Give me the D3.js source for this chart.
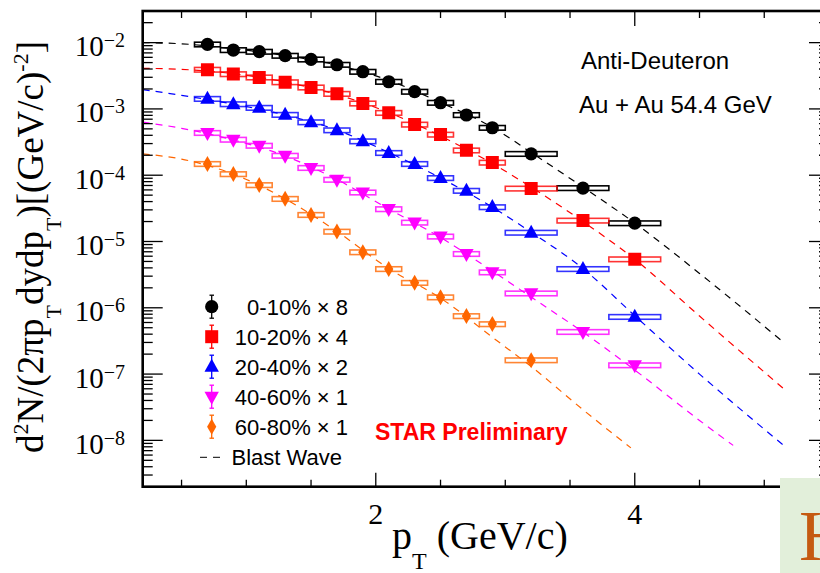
<!DOCTYPE html>
<html>
<head>
<meta charset="utf-8">
<script src="https://cdn.jsdelivr.net/npm/d3@7"></script>
<style>
  body { margin: 0; background: #fff; }
  svg { display: block; }
</style>
</head>
<body>
<div id="chart-wrapper"></div>
<script>
let width = 820
let height = 573

// pT bin centres and half widths (GeV/c)
let ptBins = [0.7, 0.9, 1.1, 1.3, 1.5, 1.7, 1.9, 2.1, 2.3, 2.5, 2.7, 2.9, 3.2, 3.6, 4.0]
let ptHalf = [0.1, 0.1, 0.1, 0.1, 0.1, 0.1, 0.1, 0.1, 0.1, 0.1, 0.1, 0.1, 0.2, 0.2, 0.2]
let sysFrac = 0.08

// spectra (already scaled)
let cent0_10 = [9.4e-3, 7.73e-3, 7.3e-3, 6.35e-3, 5.58e-3, 4.64e-3, 3.64e-3, 2.57e-3, 1.82e-3, 1.24e-3, 8.1e-4, 5.2e-4, 2.1e-4, 6.4e-5, 1.89e-5]
let cent10_20 = [3.91e-3, 3.35e-3, 2.99e-3, 2.53e-3, 2.11e-3, 1.69e-3, 1.21e-3, 8.73e-4, 5.81e-4, 4.1e-4, 2.37e-4, 1.55e-4, 6.3e-5, 2.07e-5, 5.4e-6]
let cent20_40 = [1.42e-3, 1.18e-3, 1.04e-3, 8.15e-4, 6.3e-4, 4.77e-4, 3.25e-4, 2.17e-4, 1.48e-4, 9.07e-5, 5.83e-5, 3.3e-5, 1.36e-5, 3.85e-6, 7.3e-7]
let cent40_60 = [4.35e-4, 3.44e-4, 2.79e-4, 1.97e-4, 1.29e-4, 8.55e-5, 5.5e-5, 3.08e-5, 1.93e-5, 1.19e-5, 6.5e-6, 3.43e-6, 1.65e-6, 4.33e-7, 1.36e-7]
let cent60_80 = [1.48e-4, 1.04e-4, 7.1e-5, 4.4e-5, 2.52e-5, 1.41e-5, 6.9e-6, 3.85e-6, 2.38e-6, 1.44e-6, 7.5e-7, 5.67e-7, 1.62e-7]

// blast wave curves
let bwPt = [0.2, 0.5, 0.9, 1.3, 1.7, 2.1, 2.5, 2.9, 3.2, 3.6, 4.0, 4.5, 5.15]
let bw0_10 = [1.0e-2, 9.6e-3, 8.1e-3, 6.4e-3, 4.6e-3, 2.7e-3, 1.25e-3, 5.3e-4, 2.2e-4, 6.6e-5, 1.9e-5, 3.3e-6, 3.0e-7]
let bw10_20 = [4.1e-3, 3.95e-3, 3.4e-3, 2.55e-3, 1.65e-3, 8.8e-4, 3.9e-4, 1.5e-4, 6.6e-5, 2.0e-5, 5.4e-6, 7.5e-7, 6.0e-8]
let bw20_40 = [1.96e-3, 1.6e-3, 1.18e-3, 8.1e-4, 4.8e-4, 2.2e-4, 9.1e-5, 3.3e-5, 1.38e-5, 3.9e-6, 7.6e-7, 1.0e-7, 8.4e-9]
let bwPt40_60 = [0.2, 0.5, 0.9, 1.3, 1.7, 2.1, 2.5, 2.9, 3.2, 3.6, 4.0, 4.5, 4.76]
let bw40_60 = [6.3e-4, 5.1e-4, 3.4e-4, 1.95e-4, 8.6e-5, 3.1e-5, 1.15e-5, 3.6e-6, 1.45e-6, 4.3e-7, 1.15e-7, 2.0e-8, 8.4e-9]
let bwPt60_80 = [0.2, 0.5, 0.9, 1.3, 1.7, 2.1, 2.5, 2.9, 3.2, 3.6, 3.97]
let bw60_80 = [2.1e-4, 1.75e-4, 1.04e-4, 4.4e-5, 1.42e-5, 3.9e-6, 1.4e-6, 3.6e-7, 1.3e-7, 2.9e-8, 7.7e-9]

let labels = ["0-10% \u00d7 8", "10-20% \u00d7 4", "20-40% \u00d7 2", "40-60% \u00d7 1", "60-80% \u00d7 1"]
let colors = ["#000000", "#ff0000", "#0000ff", "#ff00ff", "#ff6600"]
let shapes = ["circle", "square", "triUp", "triDown", "diamond"]

let series = [
  {vals: cent0_10, bwX: bwPt, bwY: bw0_10},
  {vals: cent10_20, bwX: bwPt, bwY: bw10_20},
  {vals: cent20_40, bwX: bwPt, bwY: bw20_40},
  {vals: cent40_60, bwX: bwPt40_60, bwY: bw40_60},
  {vals: cent60_80, bwX: bwPt60_80, bwY: bw60_80}
]

let frame = {left: 142.7, top: 11, right: 829, bottom: 486.7}
let serif = "'Liberation Serif', 'Times New Roman', serif"
let sans = "'Liberation Sans', Arial, Helvetica, sans-serif"

let svg = d3.select("#chart-wrapper")
  .append("svg")
  .attr("width", width)
  .attr("height", height)

svg.append("rect").attr("width", width).attr("height", height).attr("fill", "#fff")

let x = d3.scaleLinear().domain([0.2, 5.5]).range([frame.left, frame.right])
let y = d3.scaleLog().domain([2e-9, 3e-2]).range([frame.bottom, frame.top])

let clip = svg.append("clipPath").attr("id", "plotclip")
  .append("rect")
  .attr("x", frame.left).attr("y", frame.top)
  .attr("width", frame.right - frame.left).attr("height", frame.bottom - frame.top)

let plot = svg.append("g").attr("clip-path", "url(#plotclip)")

function markerPath(shape) {
  if (shape == "circle") return d3.symbol(d3.symbolCircle, Math.PI * 6.6 * 6.6)()
  if (shape == "square") return "M-6.5,-6.5H6.5V6.5H-6.5Z"
  if (shape == "triUp") return "M0,-8L7.2,5L-7.2,5Z"
  if (shape == "triDown") return "M0,8L7.2,-5L-7.2,-5Z"
  return "M0,-8L4.6,0L0,8L-4.6,0Z"
}

// systematic boxes
series.forEach((s, k) => {
  plot.append("g")
    .selectAll("rect")
    .data(s.vals)
    .enter()
    .append("rect")
    .attr("x", (d, i) => x(ptBins[i] - ptHalf[i]))
    .attr("width", (d, i) => x(ptBins[i] + ptHalf[i]) - x(ptBins[i] - ptHalf[i]))
    .attr("y", d => y(d * (1 + sysFrac)))
    .attr("height", d => y(d * (1 - sysFrac)) - y(d * (1 + sysFrac)))
    .attr("fill", "none")
    .attr("stroke", colors[k])
    .attr("stroke-opacity", k == 0 ? 1 : 0.8)
    .attr("stroke-width", 1.6)
})

// blast wave fits
let line = d3.line()
  .x(d => x(d[0]))
  .y(d => y(d[1]))
  .curve(d3.curveMonotoneX)

series.forEach((s, k) => {
  plot.append("path")
    .attr("d", line(s.bwX.map((p, i) => [p, s.bwY[i]])))
    .attr("fill", "none")
    .attr("stroke", colors[k])
    .attr("stroke-width", 1.2)
    .attr("stroke-dasharray", "7,6")
})

// markers
series.forEach((s, k) => {
  plot.append("g")
    .selectAll("path")
    .data(s.vals)
    .enter()
    .append("path")
    .attr("d", markerPath(shapes[k]))
    .attr("transform", (d, i) => `translate(${x(ptBins[i])},${y(d)})`)
    .attr("fill", colors[k])
})

// frame + ticks
let axes = svg.append("g").attr("stroke", "#000")
let xMinor = d3.range(0.5, 5.01, 0.5)
xMinor.forEach(t => {
  let major = (t == 2 || t == 4)
  axes.append("line").attr("x1", x(t)).attr("x2", x(t))
    .attr("y1", frame.bottom).attr("y2", frame.bottom - (major ? 14 : 7)).attr("stroke-width", 1.3)
  axes.append("line").attr("x1", x(t)).attr("x2", x(t))
    .attr("y1", frame.top).attr("y2", frame.top + (major ? 15 : 7)).attr("stroke-width", 1.3)
})
let yTicks = []
for (let e = -9; e <= -2; e++) {
  for (let m = 1; m <= 9; m++) {
    let v = m * Math.pow(10, e)
    if (v >= 2e-9 && v <= 3e-2) yTicks.push({v: v, major: m == 1, e: e})
  }
}
yTicks.forEach(t => {
  axes.append("line").attr("x1", frame.left).attr("x2", frame.left + (t.major ? 20 : 10))
    .attr("y1", y(t.v)).attr("y2", y(t.v)).attr("stroke-width", 1.3)
  axes.append("line").attr("x1", frame.right).attr("x2", frame.right - (t.major ? 20 : 10))
    .attr("y1", y(t.v)).attr("y2", y(t.v)).attr("stroke-width", 1.3)
})
axes.append("rect")
  .attr("x", frame.left).attr("y", frame.top)
  .attr("width", frame.right - frame.left).attr("height", frame.bottom - frame.top)
  .attr("fill", "none").attr("stroke-width", 2.6)

// y tick labels
yTicks.filter(t => t.major && t.e <= -2 && t.e >= -8).forEach(t => {
  let tx = svg.append("text")
    .attr("x", 125).attr("y", y(t.v) + 13.5)
    .attr("text-anchor", "end")
    .attr("font-family", serif).attr("font-size", 29)
  tx.append("tspan").text("10")
  tx.append("tspan").attr("dy", -9).attr("font-size", 20).text("\u2212" + (-t.e))
})

// x tick labels
;[2, 4].forEach(t => {
  svg.append("text")
    .attr("x", x(t)).attr("y", 524)
    .attr("text-anchor", "middle")
    .attr("font-family", serif).attr("font-size", 30)
    .text(t)
})

// axis titles
let xt = svg.append("text")
  .attr("x", 392).attr("y", 549)
  .attr("font-family", serif).attr("font-size", 40)
xt.append("tspan").text("p")
xt.append("tspan").attr("dy", 20).attr("font-size", 24).text("T")
xt.append("tspan").attr("dy", -20).text(" (GeV/c)")

let yt = svg.append("text")
  .attr("transform", "translate(43,247) rotate(-90)")
  .attr("text-anchor", "middle")
  .attr("font-family", serif).attr("font-size", 37)
yt.append("tspan").text("d")
yt.append("tspan").attr("dy", -15).attr("font-size", 22).text("2")
yt.append("tspan").attr("dy", 15).text("N/(2\u03c0p")
yt.append("tspan").attr("dy", 18).attr("font-size", 22).text("T")
yt.append("tspan").attr("dy", -18).text("dydp")
yt.append("tspan").attr("dy", 18).attr("font-size", 22).text("T")
yt.append("tspan").attr("dy", -18).text(")[(GeV/c)")
yt.append("tspan").attr("dy", -15).attr("font-size", 22).text("-2")
yt.append("tspan").attr("dy", 15).text("]")

// annotations
svg.append("text").attr("x", 581).attr("y", 69)
  .attr("font-family", sans).attr("font-size", 24).text("Anti-Deuteron")
svg.append("text").attr("x", 579).attr("y", 113)
  .attr("font-family", sans).attr("font-size", 24).text("Au + Au 54.4 GeV")
svg.append("text").attr("x", 375).attr("y", 440)
  .attr("font-family", sans).attr("font-size", 23).attr("font-weight", "bold")
  .attr("fill", "#ff0000").text("STAR Preliminary")

// legend
let legend = svg.append("g")
labels.forEach((lab, k) => {
  let ly = 306.7 + 30 * k
  legend.append("line").attr("x1", 211.7).attr("x2", 211.7)
    .attr("y1", ly - 11.5).attr("y2", ly + 11.5).attr("stroke", colors[k]).attr("stroke-width", 1.3)
  legend.append("line").attr("x1", 209.5).attr("x2", 214).attr("y1", ly - 11.5).attr("y2", ly - 11.5)
    .attr("stroke", colors[k]).attr("stroke-width", 1.3)
  legend.append("line").attr("x1", 209.5).attr("x2", 214).attr("y1", ly + 11.5).attr("y2", ly + 11.5)
    .attr("stroke", colors[k]).attr("stroke-width", 1.3)
  legend.append("path").attr("d", markerPath(shapes[k]))
    .attr("transform", `translate(211.7,${ly})`).attr("fill", colors[k])
  legend.append("text").attr("x", 348).attr("y", ly + 8)
    .attr("text-anchor", "end")
    .attr("font-family", sans).attr("font-size", 22).text(lab)
})
legend.append("line").attr("x1", 200).attr("x2", 224)
  .attr("y1", 457.3).attr("y2", 457.3)
  .attr("stroke", "#333").attr("stroke-width", 1.2).attr("stroke-dasharray", "7,6")
legend.append("text").attr("x", 231.5).attr("y", 465.3)
  .attr("font-family", sans).attr("font-size", 22).text("Blast Wave")

// overlapping slide box at bottom right
svg.append("rect").attr("x", 780).attr("y", 478).attr("width", 40).attr("height", 95).attr("fill", "#e2efda")
svg.append("text").attr("x", 799).attr("y", 560)
  .attr("font-family", serif).attr("font-size", 72).attr("fill", "#c55a11").text("H")
</script>
</body>
</html>
